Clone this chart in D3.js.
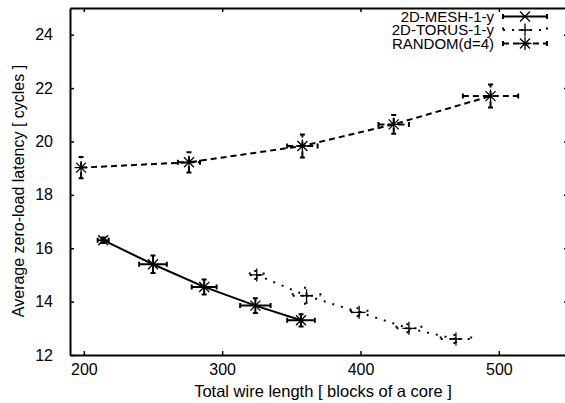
<!DOCTYPE html>
<html>
<head>
<meta charset="utf-8">
<script src="https://cdn.jsdelivr.net/npm/d3@7"></script>
<style>
  body { margin: 0; background: #fff; }
  text { font-family: "Liberation Sans", Arial, sans-serif; fill: #000; }
</style>
</head>
<body>
<svg id="chart" width="565" height="403"></svg>
<script>
// data: x, y, x error, y error
const seriesNames = ["2D-MESH-1-y", "2D-TORUS-1-y", "RANDOM(d=4)"];

const meshX    = [214, 250, 287, 324, 357];
const meshY    = [16.3, 15.4, 14.55, 13.85, 13.3];
const meshXErr = [4, 10, 9, 11, 10];
const meshYErr = [0.1, 0.33, 0.28, 0.28, 0.23];

const torusX    = [325, 361, 399, 435, 469];
const torusY    = [15.0, 14.22, 13.6, 13.0, 12.6];
const torusXErr = [5, 10, 6, 9, 11];
const torusYErr = [0.15, 0.3, 0.15, 0.15, 0.15];

const randX    = [198, 276, 358, 424, 494];
const randY    = [19.02, 19.22, 19.83, 20.64, 21.7];
const randXErr = [0, 8, 11, 11, 20];
const randYErr = [0.4, 0.38, 0.43, 0.35, 0.43];

const xTicks = [200, 300, 400, 500];
const yTicks = [12, 14, 16, 18, 20, 22, 24];

const svg = d3.select("svg#chart");
const margin = {top: 8, left: 70};
const plotRight = 568, plotBottom = 355;

const x = d3.scaleLinear().domain([190, 550]).range([margin.left, plotRight]);
const y = d3.scaleLinear().domain([12, 25]).range([plotBottom, margin.top]);

function pack(xs, ys, xe, ye) {
  return xs.map((v, i) => ({x: v, y: ys[i], xe: xe[i], ye: ye[i]}));
}

const series = [
  {name: seriesNames[0], data: pack(meshX, meshY, meshXErr, meshYErr), dash: null, sym: "x"},
  {name: seriesNames[1], data: pack(torusX, torusY, torusXErr, torusYErr), dash: "2,7", sym: "+"},
  {name: seriesNames[2], data: pack(randX, randY, randXErr, randYErr), dash: "6,4", sym: "*"}
];

// axes, ticks pointing inwards and mirrored on top/right
const axes = svg.append("g").attr("id", "axes");
axes.append("g").attr("transform", `translate(0,${plotBottom})`)
    .call(d3.axisBottom(x).tickValues(xTicks).tickSizeInner(-4).tickSizeOuter(0).tickPadding(9));
axes.append("g").attr("transform", `translate(0,${margin.top})`)
    .call(d3.axisTop(x).tickValues(xTicks).tickSizeInner(-4).tickSizeOuter(0).tickFormat(""));
axes.append("g").attr("transform", `translate(${margin.left},0)`)
    .call(d3.axisLeft(y).tickValues(yTicks).tickSizeInner(-4).tickSizeOuter(0).tickPadding(17));
axes.append("g").attr("transform", `translate(${plotRight},0)`)
    .call(d3.axisRight(y).tickValues(yTicks).tickSizeInner(-4).tickSizeOuter(0).tickFormat(""));

axes.selectAll(".domain").attr("stroke", "#000").attr("stroke-width", 2);
axes.selectAll(".tick line").attr("stroke", "#000").attr("stroke-width", 1.5);
axes.selectAll(".tick text").style("font-size", "16px").style("font-family", "Liberation Sans, Arial, sans-serif");

svg.append("text").attr("x", 323).attr("y", 397).attr("text-anchor", "middle")
   .style("font-size", "16.5px").text("Total wire length [ blocks of a core ]");
svg.append("text").attr("transform", "translate(24,191) rotate(-90)").attr("text-anchor", "middle")
   .style("font-size", "16px").text("Average zero-load latency [ cycles ]");

// symbol paths
function symbolPath(sym, s) {
  const p = d3.path();
  if (sym === "x" || sym === "*") {
    p.moveTo(-s, -s); p.lineTo(s, s); p.moveTo(-s, s); p.lineTo(s, -s);
  }
  if (sym === "+" || sym === "*") {
    p.moveTo(-s * 1.3, 0); p.lineTo(s * 1.3, 0); p.moveTo(0, -s * 1.3); p.lineTo(0, s * 1.3);
  }
  return p.toString();
}

const line = d3.line().x(d => x(d.x)).y(d => y(d.y));
const cap = 2.5;

const chartArea = svg.append("g").attr("id", "series");

series.forEach(s => {
  const g = chartArea.append("g");
  g.append("path").datum(s.data).attr("d", line)
    .attr("fill", "none").attr("stroke", "#000").attr("stroke-width", 2)
    .attr("stroke-dasharray", s.dash);

  // error bars
  const bars = g.selectAll("g.err").data(s.data).join("g").attr("class", "err");
  bars.append("path")
    .attr("d", d => {
      const p = d3.path();
      const x0 = x(d.x - d.xe), x1 = x(d.x + d.xe), cy = y(d.y);
      const y0 = y(d.y - d.ye), y1 = y(d.y + d.ye), cx = x(d.x);
      if (d.xe > 0) {
        p.moveTo(x0, cy); p.lineTo(x1, cy);
        p.moveTo(x0, cy - cap); p.lineTo(x0, cy + cap);
        p.moveTo(x1, cy - cap); p.lineTo(x1, cy + cap);
      }
      p.moveTo(cx, y0); p.lineTo(cx, y1);
      p.moveTo(cx - cap, y0); p.lineTo(cx + cap, y0);
      p.moveTo(cx - cap, y1); p.lineTo(cx + cap, y1);
      return p.toString();
    })
    .attr("fill", "none").attr("stroke", "#000").attr("stroke-width", 2)
    .attr("stroke-dasharray", s.dash);

  g.selectAll("path.sym").data(s.data).join("path").attr("class", "sym")
    .attr("transform", d => `translate(${x(d.x)},${y(d.y)})`)
    .attr("d", symbolPath(s.sym, 5))
    .attr("fill", "none").attr("stroke", "#000").attr("stroke-width", 1.3);
});

// legend
const legend = svg.append("g").attr("id", "legend");
const legendRowY = [16.5, 30, 43.5];
series.forEach((s, i) => {
  const ly = legendRowY[i];
  legend.append("text").attr("x", 494).attr("y", ly).attr("dy", "0.35em")
    .attr("text-anchor", "end").style("font-size", "15px").text(s.name);
  const p = d3.path();
  p.moveTo(503, ly); p.lineTo(547, ly);
  p.moveTo(503, ly - cap); p.lineTo(503, ly + cap);
  p.moveTo(547, ly - cap); p.lineTo(547, ly + cap);
  legend.append("path").attr("d", p.toString())
    .attr("fill", "none").attr("stroke", "#000").attr("stroke-width", 2)
    .attr("stroke-dasharray", s.dash);
  legend.append("path").attr("transform", `translate(525,${ly})`)
    .attr("d", symbolPath(s.sym, 5))
    .attr("fill", "none").attr("stroke", "#000").attr("stroke-width", 1.3);
});
</script>
</body>
</html>
